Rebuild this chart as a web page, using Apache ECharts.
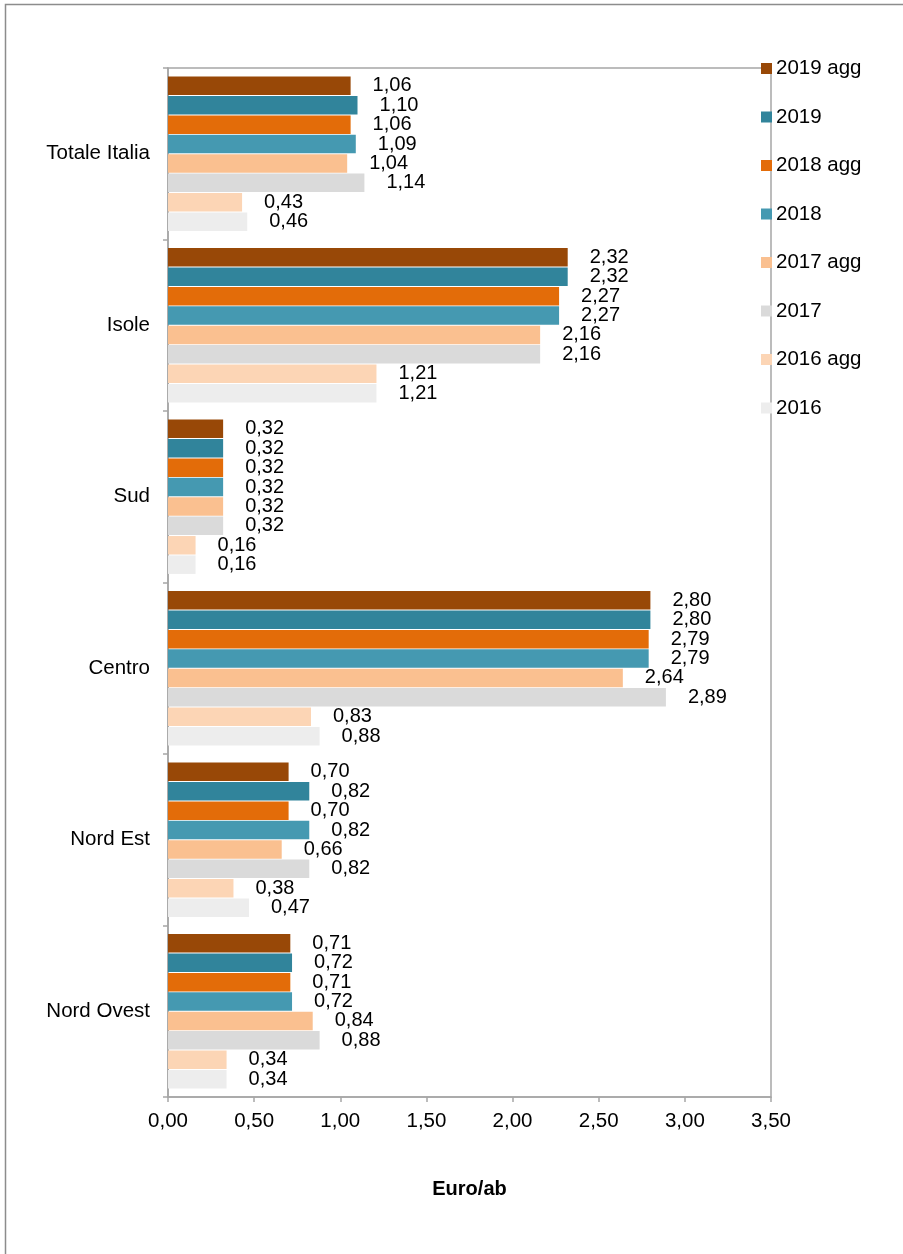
<!DOCTYPE html>
<html>
<head>
<meta charset="utf-8">
<script src="https://cdn.jsdelivr.net/npm/echarts@6/dist/echarts.min.js"></script>
<style>
html,body{margin:0;padding:0;background:#fff;}
#chart{width:903px;height:1254px;}
</style>
</head>
<body>
<div id="chart"></div>
<script>
const categories = ['Totale Italia', 'Isole', 'Sud', 'Centro', 'Nord Est', 'Nord Ovest'];
const seriesNames = ['2019 agg', '2019', '2018 agg', '2018', '2017 agg', '2017', '2016 agg', '2016'];
const colors = ['#984807', '#31849B', '#E36C09', '#4599B1', '#FAC090', '#DADADA', '#FCD5B5', '#EDEDED'];
const v2019agg = [1.06, 2.32, 0.32, 2.80, 0.70, 0.71];
const v2019    = [1.10, 2.32, 0.32, 2.80, 0.82, 0.72];
const v2018agg = [1.06, 2.27, 0.32, 2.79, 0.70, 0.71];
const v2018    = [1.09, 2.27, 0.32, 2.79, 0.82, 0.72];
const v2017agg = [1.04, 2.16, 0.32, 2.64, 0.66, 0.84];
const v2017    = [1.14, 2.16, 0.32, 2.89, 0.82, 0.88];
const v2016agg = [0.43, 1.21, 0.16, 0.83, 0.38, 0.34];
const v2016    = [0.46, 1.21, 0.16, 0.88, 0.47, 0.34];
const xTicks = ['0,00', '0,50', '1,00', '1,50', '2,00', '2,50', '3,00', '3,50'];
const allValues = [v2019agg, v2019, v2018agg, v2018, v2017agg, v2017, v2016agg, v2016];

const font = 'Liberation Sans, Arial, sans-serif';
const chart = echarts.init(document.getElementById('chart'), null, {renderer: 'canvas'});

const series = seriesNames.map((name, i) => ({
  name: name,
  type: 'bar',
  data: allValues[i],
  barGap: '5%',
  barCategoryGap: '10%',
  itemStyle: {color: colors[i]},
  label: {
    show: true,
    position: 'right',
    distance: 22,
    color: '#000',
    fontSize: 20,
    fontFamily: font,
    formatter: p => p.value.toFixed(2).replace('.', ',')
  }
}));

chart.setOption({
  animation: false,
  color: colors,
  graphic: [{
    type: 'rect',
    shape: {x: 5.5, y: 4.5, width: 1000, height: 1400},
    style: {fill: 'none', stroke: '#8c8c8c', lineWidth: 1.5},
    silent: true
  }],
  legend: {
    orient: 'vertical',
    left: 761,
    top: 58,
    padding: 0,
    itemWidth: 11,
    itemHeight: 11,
    itemGap: 27.5,
    icon: 'rect',
    textStyle: {fontSize: 20.5, lineHeight: 20, color: '#000', fontFamily: font, padding: [0, 0, 0, -1]},
    data: seriesNames
  },
  grid: {
    left: 168, right: 132, top: 68, bottom: 157,
    show: true, borderColor: '#a6a6a6', borderWidth: 1.5, backgroundColor: 'transparent'
  },
  xAxis: {
    type: 'value',
    min: 0, max: 3.5, interval: 0.5,
    name: 'Euro/ab',
    nameLocation: 'middle',
    nameGap: 82,
    nameTextStyle: {fontSize: 20, fontWeight: 'bold', color: '#000', fontFamily: font},
    axisLine: {show: true, lineStyle: {color: '#a6a6a6', width: 1.5}},
    axisTick: {show: true, length: 5, lineStyle: {color: '#a6a6a6', width: 1.5}},
    splitLine: {show: false},
    axisLabel: {
      fontSize: 20.5, color: '#000', fontFamily: font, margin: 14,
      formatter: v => xTicks[Math.round(v / 0.5)]
    }
  },
  yAxis: {
    type: 'category',
    inverse: true,
    data: categories,
    axisLine: {show: true, lineStyle: {color: '#a6a6a6', width: 1.5}},
    axisTick: {show: true, length: 5, lineStyle: {color: '#a6a6a6', width: 1.5}},
    axisLabel: {fontSize: 20.5, color: '#000', fontFamily: font, margin: 18}
  },
  series: series
});
</script>
</body>
</html>
